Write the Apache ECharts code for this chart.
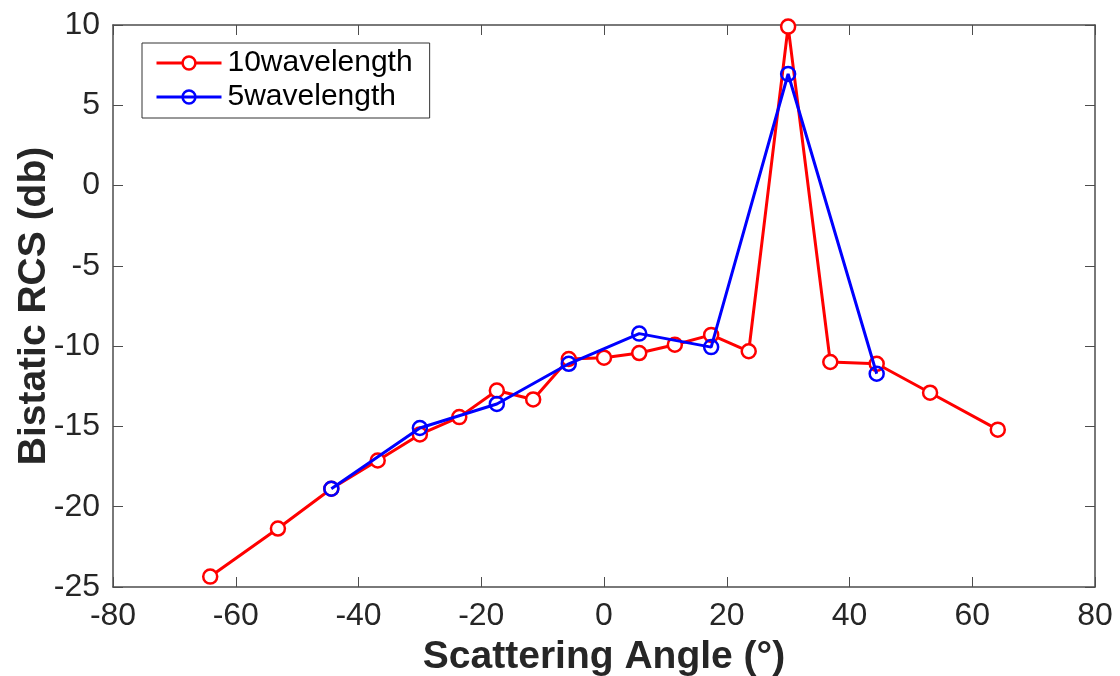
<!DOCTYPE html>
<html>
<head>
<meta charset="utf-8">
<script src="https://cdn.jsdelivr.net/npm/echarts@6/dist/echarts.min.js"></script>
<style>html,body{margin:0;padding:0;background:#fff;}#c{width:1120px;height:676px;}</style>
</head>
<body>
<div id="c"></div>
<script>
const anglesRed = [-64.16, -53.13, -44.43, -36.87, -30, -23.58, -17.46, -11.54, -5.74, 0, 5.74, 11.54, 17.46, 23.58, 30, 36.87, 44.43, 53.13, 64.16];
const rcsRed = [-24.35, -21.36, -18.88, -17.12, -15.5, -14.42, -12.76, -13.32, -10.8, -10.72, -10.43, -9.91, -9.3, -10.32, 9.9, -10.99, -11.1, -12.9, -15.2];
const anglesBlue = [-44.43, -30, -17.46, -5.74, 5.74, 17.46, 30, 44.43];
const rcsBlue = [-18.88, -15.1, -13.6, -11.1, -9.22, -10.06, 6.95, -11.72];
const seriesNames = ['10wavelength', '5wavelength'];
const xTitle = 'Scattering Angle (°)';
const yTitle = 'Bistatic RCS (db)';

const font = '"Liberation Sans", Arial, Helvetica, sans-serif';
const axisColor = '#4d4d4d';
const textColor = '#262626';
const pair = (xs, ys) => xs.map((x, i) => [x, ys[i]]);

const chart = echarts.init(document.getElementById('c'), null, {renderer: 'canvas'});
const baseX = {
  type: 'value', min: -80, max: 80, interval: 20,
  axisLine: {show: true, onZero: false, lineStyle: {color: axisColor, width: 1.5}},
  axisTick: {show: true, inside: true, length: 10, lineStyle: {color: axisColor, width: 1}},
  splitLine: {show: false}
};
const baseY = {
  type: 'value', min: -25, max: 10, interval: 5,
  axisLine: {show: true, onZero: false, lineStyle: {color: axisColor, width: 1.5}},
  axisTick: {show: true, inside: true, length: 10, lineStyle: {color: axisColor, width: 1}},
  splitLine: {show: false}
};
chart.setOption({
  animation: false,
  backgroundColor: '#fff',
  grid: {left: 113, right: 25, top: 25, bottom: 89, containLabel: false, outerBoundsMode: 'none'},
  legend: {
    orient: 'vertical', left: 142, top: 43,
    data: seriesNames,
    backgroundColor: '#fff', borderColor: '#333', borderWidth: 1,
    padding: [5, 17, 6, 13], itemGap: 4,
    itemWidth: 65, itemHeight: 16,
    lineStyle: {width: 3},
    itemStyle: {borderWidth: 2.5},
    textStyle: {fontFamily: font, fontSize: 30, color: '#000', padding: [0, 0, 0, 1]}
  },
  xAxis: [
    Object.assign({}, baseX, {
      position: 'bottom',
      axisLabel: {show: true, margin: 13, fontFamily: font, fontSize: 32, color: textColor},
      name: xTitle, nameLocation: 'middle', nameGap: 51, nameMoveOverlap: false,
      nameTextStyle: {fontFamily: font, fontSize: 39, fontWeight: 'bold', color: textColor}
    }),
    Object.assign({}, baseX, {position: 'top', axisLabel: {show: false}})
  ],
  yAxis: [
    Object.assign({}, baseY, {
      position: 'left',
      axisLabel: {show: true, margin: 13, fontFamily: font, fontSize: 32, color: textColor},
      name: yTitle, nameLocation: 'middle', nameGap: 59, nameMoveOverlap: false,
      nameTextStyle: {fontFamily: font, fontSize: 39, fontWeight: 'bold', color: textColor}
    }),
    Object.assign({}, baseY, {position: 'right', axisLabel: {show: false}})
  ],
  series: [
    {
      name: seriesNames[0], type: 'line', data: pair(anglesRed, rcsRed),
      symbol: 'circle', symbolSize: 14, showAllSymbol: true,
      lineStyle: {color: '#ff0000', width: 3},
      itemStyle: {color: '#fff', borderColor: '#ff0000', borderWidth: 2.5},
      color: '#ff0000', z: 2
    },
    {
      name: seriesNames[1], type: 'line', data: pair(anglesBlue, rcsBlue),
      symbol: 'circle', symbolSize: 14, showAllSymbol: true,
      lineStyle: {color: '#0000ff', width: 3},
      itemStyle: {color: 'rgba(255,255,255,0)', borderColor: '#0000ff', borderWidth: 2.5},
      color: '#0000ff', z: 3
    }
  ]
});
</script>
</body>
</html>
